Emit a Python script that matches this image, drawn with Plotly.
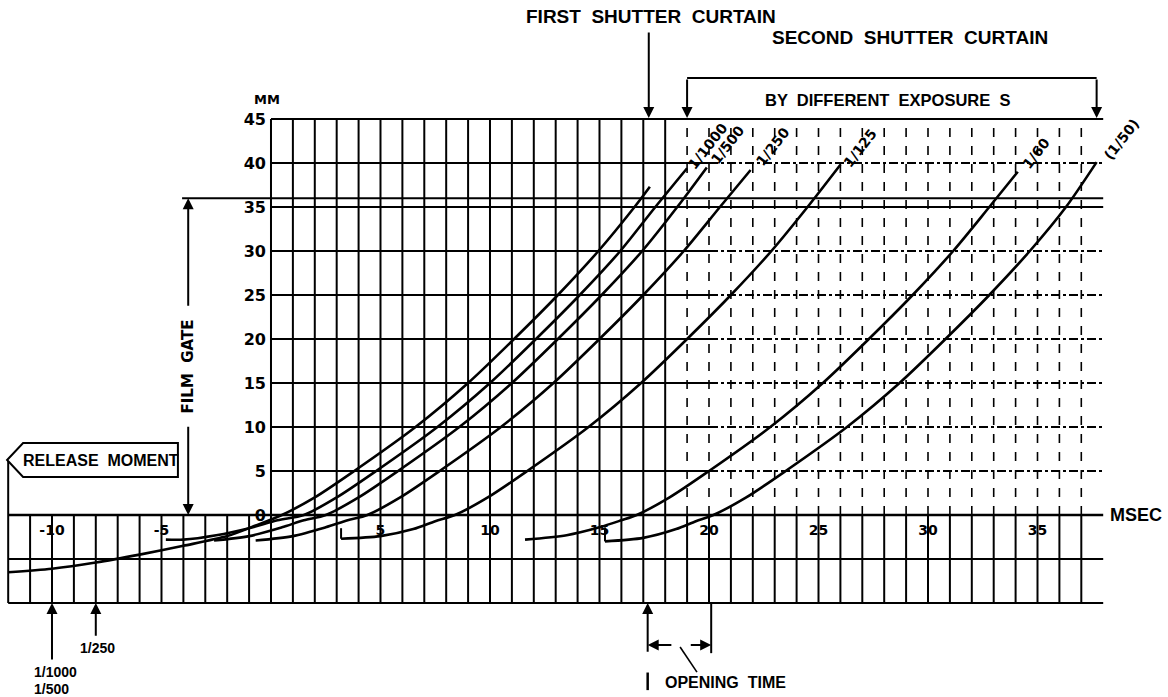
import plotly.graph_objects as go

# ---------------- data ----------------
y_ticks = [0, 5, 10, 15, 20, 25, 30, 35, 40, 45]
x_ticks = [-10, -5, 5, 10, 15, 20, 25, 30, 35]

# first shutter curtain
fc_ms = [-12.0, -10.0, -8.0, -6.0, -4.0, -2.0, -0.7, 0.5, 2.0, 3.8, 6.6, 9.0, 11.1, 13.1, 14.95, 16.6, 17.3]
fc_mm = [-6.5, -6.1, -5.4, -4.5, -3.5, -2.4, -1.2, 0.0, 2.0, 5.0, 10.0, 15.0, 20.0, 25.0, 30.0, 35.0, 37.3]

# second shutter curtain, by exposure
s1000_ms = [-4.8, -4.0, -2.5, -1.0, 0.3, 1.5, 3.0, 4.8, 7.6, 10.0, 12.1, 14.1, 15.95, 17.55, 19.0]
s1000_mm = [-2.8, -2.8, -2.3, -1.5, -0.6, 0.0, 2.0, 5.0, 10.0, 15.0, 20.0, 25.0, 30.0, 35.0, 39.4]

s500_ms = [-2.6, -1.0, 0.5, 1.5, 2.5, 4.0, 5.8, 8.6, 11.0, 13.1, 15.1, 16.95, 18.55, 19.9]
s500_mm = [-2.9, -2.4, -1.4, -0.6, 0.0, 2.0, 5.0, 10.0, 15.0, 20.0, 25.0, 30.0, 35.0, 39.5]

s250_ms = [-0.7, 1.0, 2.5, 3.5, 4.4, 5.9, 7.7, 10.5, 12.9, 15.0, 17.0, 18.85, 20.5, 21.9]
s250_mm = [-2.9, -2.4, -1.4, -0.6, 0.0, 2.0, 5.0, 10.0, 15.0, 20.0, 25.0, 30.0, 35.0, 39.2]

s125_ms = [3.2, 5.0, 6.5, 7.5, 8.4, 9.9, 11.7, 14.5, 16.9, 19.0, 21.0, 22.85, 24.5, 26.0]
s125_mm = [-2.7, -2.4, -1.6, -0.7, 0.0, 2.0, 5.0, 10.0, 15.0, 20.0, 25.0, 30.0, 35.0, 39.8]

s60_ms = [11.6, 13.5, 15.0, 16.0, 16.7, 18.2, 20.0, 22.8, 25.2, 27.3, 29.3, 31.15, 32.8, 34.1]
s60_mm = [-2.8, -2.3, -1.4, -0.6, 0.0, 2.0, 5.0, 10.0, 15.0, 20.0, 25.0, 30.0, 35.0, 39.0]

s50_ms = [15.25, 17.0, 18.5, 19.4, 20.2, 21.7, 23.5, 26.3, 28.7, 30.8, 32.8, 34.65, 36.3, 37.7]
s50_mm = [-3.0, -2.6, -1.6, -0.7, 0.0, 2.0, 5.0, 10.0, 15.0, 20.0, 25.0, 30.0, 35.0, 40.1]

curve_labels = ["1/1000", "1/500", "1/250", "1/125", "1/60", "(1/50)"]

film_gate_mm = 36
first_curtain_ms = 17.25
opening_start_ms = 17.2
opening_end_ms = 20.1

# ---------------- layout helpers ----------------
X0, X1 = -12.374, 40.959     # 21.9 px per msec
Y0, Y1 = -20.682, 58.523     # 8.8 px per mm
BLACK = "black"
GRID_W = 2

fig = go.Figure()
shapes = []
annos = []


def seg(x0, y0, x1, y1, w=GRID_W, dash="solid"):
    shapes.append(dict(type="line", xref="x", yref="y", x0=x0, y0=y0, x1=x1, y1=y1,
                       line=dict(color=BLACK, width=w, dash=dash), layer="below"))


def arrow(tx, ty, hx, hy, w=2, side="end"):
    annos.append(dict(x=hx, y=hy, ax=tx, ay=ty, xref="x", yref="y", axref="x", ayref="y",
                      text="", showarrow=True, arrowhead=2, arrowsize=1.1, arrowwidth=w,
                      arrowcolor=BLACK, arrowside=side))


def label(x, y, txt, size, family="Liberation Sans, Arial", angle=0, xanchor="center"):
    annos.append(dict(x=x, y=y, xref="x", yref="y", text="<b>" + txt + "</b>", showarrow=False,
                      textangle=angle, xanchor=xanchor, yanchor="middle",
                      font=dict(family=family, size=size, color=BLACK)))


# ---------------- grid ----------------
grid_right = 38
# upper verticals (0..37)
for ms in range(0, 38):
    seg(ms, 0, ms, 45, w=GRID_W if ms <= 18 else 1.6, dash="solid" if ms <= 18 else "dash")
# lower verticals (-12..37)
for ms in range(-12, 38):
    seg(ms, -10, ms, 0)
# upper horizontals
for mm in y_ticks[1:]:
    if mm in (35, 45):
        seg(0, mm, grid_right, mm)
    else:
        seg(0, mm, 20, mm)
        seg(20, mm, grid_right, mm, w=1.8, dash="dashdot")
# film gate line
seg(-4.06, film_gate_mm, grid_right, film_gate_mm)
# zero and lower horizontals
seg(-12, 0, grid_right, 0, w=2.4)
seg(-12, -5, grid_right, -5)
seg(-12, -10, grid_right, -10)

# ---------------- curves ----------------
curves = [(fc_ms, fc_mm), (s1000_ms, s1000_mm), (s500_ms, s500_mm), (s250_ms, s250_mm),
          (s125_ms, s125_mm), (s60_ms, s60_mm), (s50_ms, s50_mm)]
for xs, ys in curves:
    fig.add_trace(go.Scatter(x=xs, y=ys, mode="lines", hoverinfo="skip",
                             line=dict(color=BLACK, width=2.6, shape="spline", smoothing=0.8)))

# start ticks of some curves
seg(s125_ms[0], s125_mm[0], s125_ms[0], -1.5, w=2)
seg(s50_ms[0], s50_mm[0], s50_ms[0], -1.4, w=2)

# curve labels (rotated along the curve ends)
label_pos = [(19.95, 41.9), (20.85, 42.0), (22.9, 41.8), (26.9, 41.7), (34.95, 41.1), (38.85, 42.7)]
for (lx, ly), t in zip(label_pos, curve_labels):
    label(lx, ly, t, 14, family="DejaVu Sans", angle=-52)

# ---------------- annotations ----------------
label(-0.2, 47.2, "MM", 13, family="DejaVu Sans")
label(38.2, 0.0, "MSEC", 18, xanchor="left")
label(17.35, 56.6, "FIRST  SHUTTER  CURTAIN", 19)
label(29.2, 54.3, "SECOND  SHUTTER  CURTAIN", 19)
label(28.15, 47.2, "BY  DIFFERENT  EXPOSURE  S", 16.5)

# first curtain arrow
arrow(first_curtain_ms, 55.0, first_curtain_ms, 45.1)
# bracket for second curtain
seg(19.0, 49.66, 37.7, 49.66)
arrow(19.0, 49.66, 19.0, 45.1)
arrow(37.7, 49.66, 37.7, 45.1)

# film gate
arrow(-3.78, 23.6, -3.78, film_gate_mm)
arrow(-3.78, 10.2, -3.78, 0)
label(-3.78, 16.9, "FILM  GATE", 15, family="DejaVu Sans", angle=-90)

# release moment box (arrow shaped)
shapes.append(dict(type="path", xref="x", yref="y",
                   path="M -12.05 6.25 L -11.32 8.18 L -4.25 8.18 L -4.25 4.32 L -11.32 4.32 Z",
                   line=dict(color=BLACK, width=2), fillcolor="white"))
seg(-12.0, 6.25, -12.0, 0)
label(-7.75, 6.25, "RELEASE  MOMENT", 16)

# release markers below the grid
arrow(-10, -16.6, -10, -10)
arrow(-8, -13.9, -8, -10)
label(-8.8, -15.1, "1/250", 14, xanchor="left")
label(-10.9, -17.85, "1/1000", 14, xanchor="left")
label(-10.9, -19.75, "1/500", 14, xanchor="left")

# opening time dimension
arrow(opening_start_ms, -15.7, opening_start_ms, -10)
seg(opening_end_ms, -10, opening_end_ms, -15.7)
arrow(18.35, -14.77, opening_start_ms, -14.77)
arrow(19.1, -14.77, opening_end_ms, -14.77)
seg(18.68, -15.0, 19.45, -17.85, w=1.6)
seg(opening_start_ms, -17.9, opening_start_ms, -19.9, w=2.5)
label(17.9, -19.0, "OPENING  TIME", 16, xanchor="left")

fig.update_layout(
    width=1168, height=697,
    margin=dict(l=0, r=0, t=0, b=0),
    paper_bgcolor="white", plot_bgcolor="white",
    showlegend=False,
    shapes=shapes, annotations=annos,
    xaxis=dict(range=[X0, X1], domain=[0, 1], anchor="free", position=(697 - 515) / 697,
               showgrid=False, zeroline=False, showline=False, ticks="",
               tickvals=x_ticks, ticktext=["<b>%d</b>" % v for v in x_ticks],
               tickfont=dict(family="DejaVu Sans", size=14, color=BLACK), ticklabelstandoff=5,
               fixedrange=True),
    yaxis=dict(range=[Y0, Y1], domain=[0, 1], anchor="free", position=269 / 1168,
               showgrid=False, zeroline=False, showline=False, ticks="",
               tickvals=y_ticks, ticktext=["<b>%d</b>" % v for v in y_ticks],
               tickfont=dict(family="DejaVu Sans", size=16, color=BLACK), ticklabelstandoff=3,
               fixedrange=True),
)

fig.write_html("out.html", config={"displayModeBar": False},
               post_script="document.body.style.margin='0';document.body.style.overflow='hidden';")
